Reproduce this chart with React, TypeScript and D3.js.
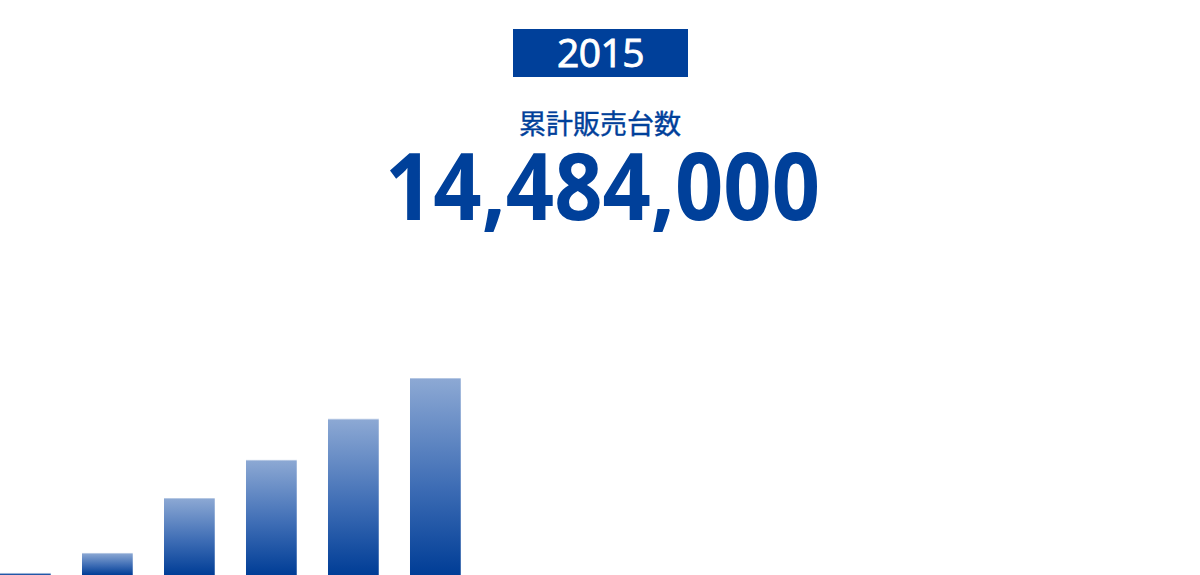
import React from "react";
import * as d3 from "d3";

// cumulative sales per year (units)
const years = ["2010", "2011", "2012", "2013", "2014", "2015"];
const sales = [150000, 1620000, 5660000, 8460000, 11480000, 14484000];
const currentYear = "2015";
const totalLabel = "累計販売台数";

const width = 1200;
const height = 575;
const blue = "#00409a";

const App = () => {
  const x = d3
    .scaleBand<string>()
    .domain(years)
    .range([0, 461])
    .paddingInner(0.378)
    .paddingOuter(0);
  const y = d3.scaleLinear().domain([0, 14484000]).range([height, 378]);
  const fmt = d3.format(",");

  return (
    <svg
      width={width}
      height={height}
      style={{ position: "absolute", left: 0, top: 0, display: "block" }}
    >
      <defs>
        <linearGradient id="barGrad" x1="0" y1="0" x2="0" y2="1">
          <stop offset="0%" stopColor="#8da9d4" />
          <stop offset="55%" stopColor="#3e6db5" />
          <stop offset="100%" stopColor="#003d96" />
        </linearGradient>
      </defs>
      <rect width={width} height={height} fill="#fff" />

      <rect x={513} y={29} width={175} height={48} fill={blue} />
      <text
        x={600.5}
        y={67}
        textAnchor="middle"
        fill="#fff"
        stroke="#fff"
        strokeWidth={0.9}
        fontFamily="'Open Sans', 'Noto Sans', sans-serif"
        fontSize={39}
        letterSpacing={-0.5}
      >
        {currentYear}
      </text>

      <text
        x={600}
        y={134}
        textAnchor="middle"
        fill={blue}
        stroke={blue}
        strokeWidth={0.4}
        fontFamily="'Noto Sans CJK JP', sans-serif"
        fontSize={27}
        fontWeight={400}
      >
        {totalLabel}
      </text>

      <text
        x={602.5}
        y={220}
        textAnchor="middle"
        fill={blue}
        fontFamily="'Open Sans', 'Noto Sans', sans-serif"
        fontSize={93}
        fontWeight={700}
        textLength={435}
        lengthAdjust="spacingAndGlyphs"
      >
        {fmt(sales[sales.length - 1])}
      </text>

      {years.map((yr, i) => {
        const bx = x(yr) ?? 0;
        const by = y(sales[i]);
        const bw = x.bandwidth();
        const bh = height - by;
        return (
          <g key={yr}>
            <rect x={bx} y={by} width={bw} height={bh} fill="url(#barGrad)" />
            <rect x={bx} y={by} width={bw} height={1} fill="#fff" opacity={0.35} />
            <rect x={bx + bw - 1} y={by} width={1} height={bh} fill="#fff" opacity={0.25} />
          </g>
        );
      })}
    </svg>
  );
};

export default App;
